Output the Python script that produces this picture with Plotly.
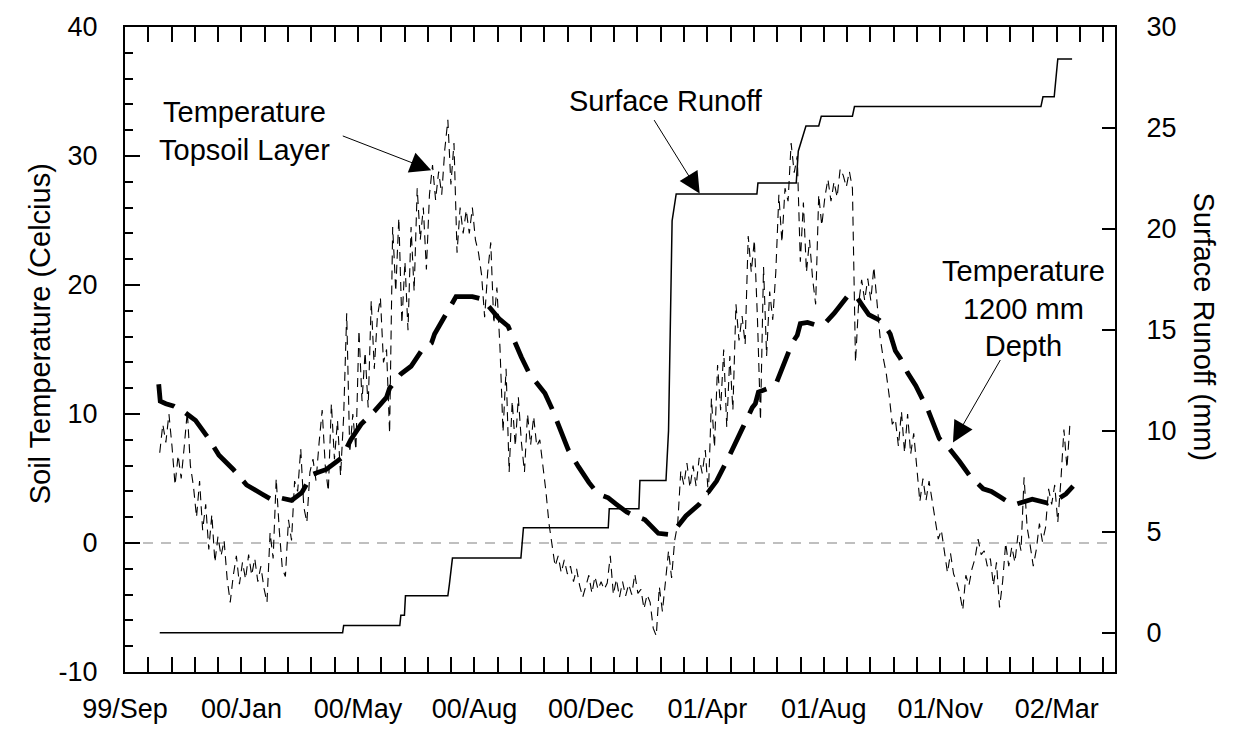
import plotly.graph_objects as go

# ---------------- data ----------------
# x axis in days from the "99/Sep" tick
tick_days = [0, 114, 228, 342, 456, 570, 684, 798, 912]
tick_labels = ["99/Sep", "00/Jan", "00/May", "00/Aug", "00/Dec",
               "01/Apr", "01/Aug", "01/Nov", "02/Mar"]
left_ticks = [-10, 0, 10, 20, 30, 40]
left_tick_labels = ["-10", "0", "10", "20", "30", "40"]
right_ticks = [0, 5, 10, 15, 20, 25, 30]
right_tick_labels = ["0", "5", "10", "15", "20", "25", "30"]

# cumulative surface runoff (mm, right axis) – step vertices
runoff_days = [34, 213, 214, 269, 270, 273.5, 274.5, 316, 317.5, 320.5,
               387.5, 390, 473, 474, 503, 504, 529.5, 530.5, 532, 535.5,
               539.5, 618.5, 619.5, 657, 659, 666.5, 679, 681.5, 712, 714,
               896.5, 898.5, 909.5, 913, 927]
runoff_mm = [0.0, 0.0, 0.36, 0.36, 0.87, 0.87, 1.83, 1.83, 2.4, 3.7,
             3.7, 5.2, 5.2, 6.15, 6.15, 7.54, 7.54, 8.5, 10.0, 20.4,
             21.73, 21.73, 22.27, 22.27, 23.85, 25.1, 25.1, 25.58, 25.58, 26.06,
             26.06, 26.54, 26.54, 28.42, 28.42]

# temperature at 1200 mm depth (deg C)
deep_days = [33, 34.5, 40, 48, 59, 69, 81, 92, 106, 119, 134, 145, 152, 163, 173,
             183, 197, 212, 221, 231, 244, 256, 259, 270, 280, 291, 300, 303, 324,
             340, 350, 357, 366, 375, 380, 388, 396, 411, 418, 426, 434, 444, 454,
             463, 473, 481, 491, 499, 509, 522, 532, 540, 549, 562, 579, 590, 599,
             605, 614, 617, 620, 630, 638, 645, 653, 658, 661, 668, 676, 686, 694,
             707, 715, 721, 728, 738, 744, 749, 754, 759, 766, 774, 781, 786, 797,
             807, 817, 827, 840, 848, 856, 866, 872, 882, 888, 903, 911, 921, 928]
deep_temp = [12.3, 11.0, 10.8, 10.6, 10.1, 9.5, 8.2, 6.8, 5.7, 4.5, 3.8, 3.3, 3.5, 3.3, 3.9,
             5.3, 5.7, 6.6, 8.0, 9.2, 10.2, 11.3, 12.0, 13.1, 13.7, 15.0, 15.5, 16.2, 19.1,
             19.1, 18.9, 18.2, 17.4, 16.8, 15.8, 14.4, 13.1, 11.6, 10.4, 8.9, 7.2, 5.9, 4.7,
             3.8, 3.5, 3.0, 2.4, 2.1, 1.8, 0.75, 0.66, 1.2, 2.1, 3.0, 4.8, 6.5, 8.1,
             9.0, 10.5, 10.8, 11.7, 12.0, 12.5, 13.8, 15.5, 16.1, 17.0, 17.1, 16.9, 17.1, 17.8,
             19.1, 19.2, 18.5, 17.7, 17.3, 16.8, 16.2, 14.9, 14.3, 13.2, 12.2, 11.0, 10.3, 8.1,
             7.3, 6.3, 5.2, 4.2, 4.0, 3.6, 3.1, 3.0, 3.3, 3.4, 3.1, 3.3, 3.8, 4.4]

# topsoil temperature (deg C), one reading every 3 days starting at day 34
topsoil_start_day = 34
topsoil_step_days = 3
topsoil_temp = [
    7.0, 9.2, 7.8, 10.0, 7.5, 4.5, 6.8, 5.0, 7.5, 10.2,          # 34-61
    6.0, 4.4, 2.0, 4.8, 1.0, 3.0, -0.5, 2.2, -1.5, 0.5,          # 64-91
    -1.0, 0.2, -2.8, -4.6, -2.5, -1.0, -3.2, -1.5, -2.8, -0.9,   # 94-121
    -2.5, -1.2, -3.0, -1.8, -3.5, -4.6, 0.8, -1.2, 5.0, 1.0,     # 124-151
    -2.0, -2.6, 1.8, 0.2, 4.8, 4.0, 7.3, 2.8, 1.6, 5.5,          # 154-181
    6.5, 4.8, 7.8, 10.3, 6.0, 4.0, 10.8, 6.5, 9.5, 5.2,          # 184-211
    9.8, 17.8, 7.0, 10.0, 7.2, 16.5, 11.0, 14.8, 10.5, 18.8,     # 214-241
    13.5, 17.5, 19.0, 14.0, 15.0, 8.5, 24.5, 19.5, 25.2, 17.0,   # 244-271
    21.8, 16.5, 24.5, 19.5, 27.5, 23.5, 26.0, 21.2, 27.0, 29.3,  # 274-301
    26.6, 28.8, 27.0, 30.5, 32.8, 27.8, 31.0, 22.5, 26.0, 24.0,  # 304-331
    25.8, 24.0, 26.0, 23.5, 22.5, 20.8, 17.5, 21.0, 23.3, 17.0,  # 334-361
    19.8, 15.2, 8.6, 13.5, 5.5, 11.0, 7.5, 11.3, 7.8, 5.5,       # 364-391
    10.0, 7.6, 9.8, 7.5, 8.0, 6.2, 4.0, 1.5, -0.2, -1.8,         # 394-421
    -1.0, -2.3, -1.3, -2.4, -1.8, -3.0, -2.0, -3.3, -4.2, -3.4,  # 424-451
    -2.5, -3.9, -2.6, -3.6, -3.0, -3.6, -3.1, -1.0, -4.0, -2.8,  # 454-481
    -4.2, -3.0, -4.1, -3.2, -4.0, -2.4, -3.9, -3.6, -5.1, -4.0,  # 484-511
    -4.6, -6.6, -7.2, -3.4, -5.3, -3.0, -0.6, -2.7, 0.2, 1.5,    # 514-541
    5.6, 4.5, 6.2, 4.3, 6.0, 4.4, 6.6, 5.4, 7.2, 3.7,            # 544-571
    11.2, 7.4, 13.8, 10.3, 15.0, 9.0, 14.5, 10.3, 18.5, 15.7,    # 574-601
    17.6, 15.4, 23.8, 21.0, 23.5, 17.5, 9.5, 21.4, 14.5, 19.5,   # 604-631
    17.3, 21.0, 27.0, 23.3, 27.5, 26.5, 31.0, 28.7, 30.0, 21.8,  # 634-661
    26.4, 21.0, 23.5, 20.5, 18.5, 27.0, 24.6, 26.8, 28.2, 26.5,  # 664-691
    28.0, 26.8, 29.0, 28.5, 27.6, 28.8, 27.5, 14.0, 18.5, 20.4,  # 694-721
    18.8, 20.5, 18.8, 21.4, 18.7, 16.0, 14.4, 13.2, 11.4, 9.2,   # 724-751
    9.6, 7.5, 10.2, 7.0, 10.0, 6.9, 8.5, 5.7, 3.2, 5.0,          # 754-781
    3.3, 4.8, 3.4, 1.8, 0.3, 1.0, -0.5, -2.3, -0.8, -2.4,        # 784-811
    -3.0, -3.9, -5.2, -2.5, -3.3, -2.0, -1.2, 0.3, -0.9, -0.6,   # 814-841
    -1.8, -1.2, -3.3, -1.5, -5.0, -3.0, 0.0, -1.8, -0.3, -1.5,   # 844-871
    0.6, -0.6, 5.1, 1.2, -0.2, -1.8, -0.5, 1.5, 0.1, 1.2,        # 874-901
    4.2, 3.0, 4.5, 1.6, 4.8, 8.8, 5.8, 9.4,                      # 904-925
]
topsoil_days = [topsoil_start_day + topsoil_step_days * i for i in range(len(topsoil_temp))]

x_range = [0, 969]
left_range = [-10, 40]
right_range = [-1.94, 30]

FONT = "Arial, Liberation Sans, sans-serif"

fig = go.Figure()

fig.add_trace(go.Scatter(x=runoff_days, y=runoff_mm, yaxis="y2", mode="lines",
                         line=dict(color="black", width=1.5), showlegend=False,
                         hoverinfo="skip"))
fig.add_trace(go.Scatter(x=topsoil_days, y=topsoil_temp, mode="lines",
                         line=dict(color="black", width=1.1, dash="9px,6px"),
                         showlegend=False, hoverinfo="skip"))
fig.add_trace(go.Scatter(x=deep_days, y=deep_temp, mode="lines",
                         line=dict(color="black", width=4.8, dash="32px,13px"),
                         showlegend=False, hoverinfo="skip"))

fig.add_shape(type="line", xref="x", yref="y", x0=x_range[0], x1=x_range[1], y0=0, y1=0,
              line=dict(color="#808080", width=1.2, dash="10px,8px"), layer="below")

tickfont = dict(family=FONT, size=27, color="black")

fig.update_layout(
    width=1242, height=736,
    margin=dict(l=125, r=127, t=14, b=63),
    paper_bgcolor="white", plot_bgcolor="white",
    font=dict(family=FONT, color="black"),
    xaxis=dict(range=x_range, tickmode="array", tickvals=tick_days, ticktext=tick_labels,
               ticks="inside", ticklen=15, tickwidth=2, tickcolor="black",
               minor=dict(ticks="inside", dtick=22.8, tick0=0, ticklen=8, tickwidth=2,
                          tickcolor="black"),
               showline=True, linewidth=2, linecolor="black", mirror="allticks",
               showgrid=False, zeroline=False, tickfont=tickfont, ticklabelstandoff=12,
               ticklabeloverflow="allow"),
    yaxis=dict(range=left_range, tickmode="array", tickvals=left_ticks,
               ticktext=left_tick_labels, ticks="inside", ticklen=15,
               tickwidth=2, tickcolor="black",
               minor=dict(ticks="inside", dtick=2, tick0=0, ticklen=8, tickwidth=2,
                          tickcolor="black"),
               showline=True, linewidth=2, linecolor="black", mirror=False,
               showgrid=False, zeroline=False, tickfont=tickfont, ticklabelstandoff=20,
               ticklabeloverflow="allow"),
    yaxis2=dict(range=right_range, overlaying="y", side="right", tickmode="array",
                tickvals=right_ticks, ticktext=right_tick_labels,
                ticks="inside", ticklen=13, tickwidth=2, tickcolor="black",
                showline=True, linewidth=2, linecolor="black",
                showgrid=False, zeroline=False, tickfont=tickfont, ticklabelstandoff=24,
                ticklabeloverflow="allow"),
)

titlefont = dict(family=FONT, size=29, color="black")
annfont = dict(family=FONT, size=29, color="black")

# axis titles
fig.add_annotation(text="Soil Temperature (Celcius)", xref="paper", yref="paper",
                   x=(40 - 125) / 990, y=(673 - 328) / 659, textangle=-90,
                   showarrow=False, font=titlefont, xanchor="center", yanchor="middle")
fig.add_annotation(text="Surface Runoff (mm)", xref="paper", yref="paper",
                   x=(1204 - 125) / 990, y=(673 - 320) / 659, textangle=90,
                   showarrow=False, font=titlefont, xanchor="center", yanchor="middle")

# in-plot labels
labels = [
    ("Temperature<br>Topsoil Layer", 117, 31.9),
    ("Surface Runoff", 530, 34.3),
    ("Temperature<br>1200 mm<br>Depth", 879, 18.2),
]
for txt, lx, ly in labels:
    fig.add_annotation(text=txt, x=lx, y=ly, showarrow=False, font=annfont,
                       xanchor="center", yanchor="middle", align="center")

# arrows: (head x, head y, tail x, tail y)
arrows = [
    (299.7, 28.9, 211.7, 31.6),
    (562.5, 27.1, 517, 32.9),
    (810.4, 7.8, 857.6, 14.3),
]
for hx, hy, tx, ty in arrows:
    fig.add_annotation(x=hx, y=hy, ax=tx, ay=ty, text="", showarrow=True,
                       axref="x", ayref="y", arrowhead=2, arrowsize=4.2,
                       arrowwidth=1, arrowcolor="black", standoff=0)

fig.write_html("out.html")
